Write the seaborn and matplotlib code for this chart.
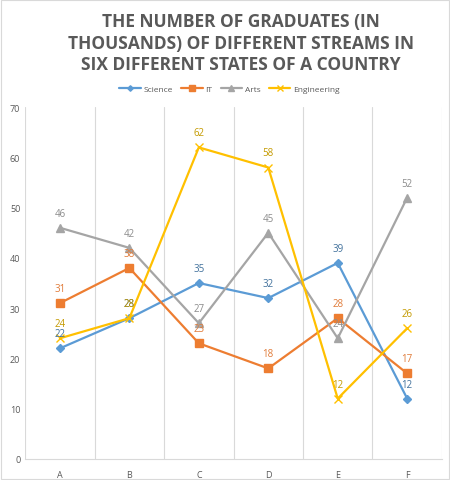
import pandas as pd
import matplotlib.pyplot as plt
import seaborn as sns

# Chart data
states = ['A', 'B', 'C', 'D', 'E', 'F']
science = [22, 28, 35, 32, 39, 12]
it = [31, 38, 23, 18, 28, 17]
arts = [46, 42, 27, 45, 24, 52]
engineering = [24, 28, 62, 58, 12, 26]

series = {'Science': science, 'IT': it, 'Arts': arts, 'Engineering': engineering}
df = pd.DataFrame([(s, st, v) for s, vals in series.items() for st, v in zip(states, vals)],
                  columns=['stream', 'state', 'value'])
df['pos'] = df['state'].map({s: i for i, s in enumerate(states)})

colors = {'Science': '#5B9BD5', 'IT': '#ED7D31', 'Arts': '#A5A5A5', 'Engineering': '#FFC000'}
label_colors = {'Science': '#41719C', 'IT': '#E07B39', 'Arts': '#8C8C8C', 'Engineering': '#C49A00'}
markers = {'Science': 'D', 'IT': 's', 'Arts': '^', 'Engineering': 'x'}
msizes = {'Science': 4, 'IT': 5.5, 'Arts': 5.5, 'Engineering': 6}

sns.set_style('white')
plt.rcParams['font.family'] = ['Open Sans', 'DejaVu Sans']

fig = plt.figure(figsize=(4.5, 4.81), dpi=100)
ax = fig.add_axes([0.056, 0.044, 0.926, 0.731])

for name in series:
    sub = df[df['stream'] == name]
    sns.lineplot(data=sub, x='pos', y='value', ax=ax, color=colors[name], lw=1.6,
                 marker=markers[name], markersize=msizes[name], markeredgewidth=1,
                 markeredgecolor=colors[name], label=name)
    for p, v in zip(sub['pos'], sub['value']):
        ax.annotate(str(v), (p, v), xytext=(0, 6.5), textcoords='offset points',
                    ha='center', va='bottom', fontsize=7, color=label_colors[name])

ax.set_xlim(-0.5, 5.5)
ax.set_ylim(0, 70)
ax.set_yticks(range(0, 71, 10))
ax.set_xticks(range(len(states)))
ax.set_xticklabels(states)
ax.set_xticks([i - 0.5 for i in range(len(states) + 1)], minor=True)
ax.grid(which='minor', axis='x', color='#D9D9D9', lw=0.8)
ax.grid(which='major', visible=False)
ax.tick_params(axis='both', which='both', length=0, labelsize=6.5, labelcolor='#595959')
ax.tick_params(axis='x', pad=8)
ax.set_xlabel('')
ax.set_ylabel('')
for side in ['top', 'right', 'left']:
    ax.spines[side].set_visible(False)
ax.spines['bottom'].set_color('#D9D9D9')

leg = ax.legend(loc='lower center', bbox_to_anchor=(0.49, 1.02), ncol=4, frameon=False,
                fontsize=6, handlelength=2.6, columnspacing=1.0, handletextpad=0.3,
                markerscale=0.7)
for t in leg.get_texts():
    t.set_color('#595959')

fig.text(0.535, 0.972, 'THE NUMBER OF GRADUATES (IN\nTHOUSANDS) OF DIFFERENT STREAMS IN\nSIX DIFFERENT STATES OF A COUNTRY',
         ha='center', va='top', fontsize=12.5, fontweight='bold', color='#595959', linespacing=1.22)

fig.patches.append(plt.Rectangle((0.002, 0.002), 0.996, 0.996, transform=fig.transFigure,
                                 fill=False, edgecolor='#D9D9D9', lw=0.8))

fig.savefig('out.png', dpi=100)
